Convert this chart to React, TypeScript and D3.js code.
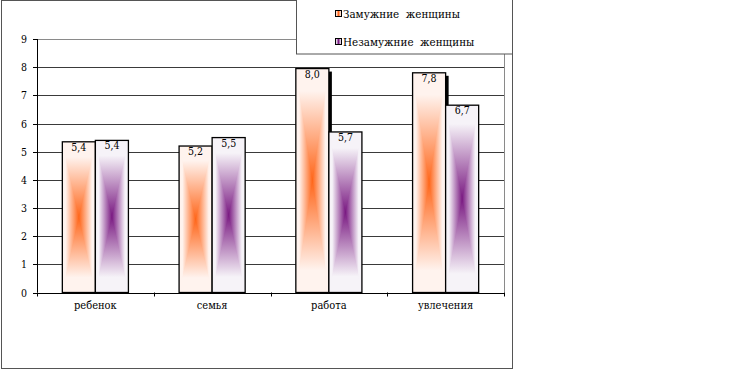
import React from "react";
import * as d3 from "d3";

const categories = ["ребенок", "семья", "работа", "увлечения"];
const seriesNames = ["Замужние  женщины", "Незамужние  женщины"];
const married = [5.35, 5.2, 7.95, 7.8];
const unmarried = [5.4, 5.5, 5.7, 6.65];
const marriedLabels = ["5,4", "5,2", "8,0", "7,8"];
const unmarriedLabels = ["5,4", "5,5", "5,7", "6,7"];
const yTicks = [0, 1, 2, 3, 4, 5, 6, 7, 8, 9];

const W = 730;
const H = 369;
const plotLeft = 37;
const plotRight = 504;
const plotTop = 39;
const plotBottom = 292.5;

const seriesColors = [
  { center: "#ff661a", edge: "#fff3ee" },
  { center: "#7a1a82", edge: "#f6f3f8" },
];

const serif = "DejaVu Serif, serif";
const textStyle: React.CSSProperties = { whiteSpace: "pre", fontStretch: "condensed" };

export default function App() {
  const x = d3.scaleBand<string>().domain(categories).range([plotLeft, plotRight]).padding(0);
  const y = d3.scaleLinear().domain([0, 9]).range([plotBottom, plotTop]);
  const barW = x.bandwidth() * 0.283;
  const values = [married, unmarried];
  const labels = [marriedLabels, unmarriedLabels];

  const gradDefs = seriesColors.map((c, i) => (
    <React.Fragment key={i}>
      <linearGradient id={`gh${i}`} x1="0" y1="0" x2="1" y2="0">
        <stop offset="0" stopColor={c.edge} />
        <stop offset="0.1" stopColor={c.edge} />
        <stop offset="0.5" stopColor={c.center} />
        <stop offset="0.9" stopColor={c.edge} />
        <stop offset="1" stopColor={c.edge} />
      </linearGradient>
      <linearGradient id={`gv${i}`} x1="0" y1="0" x2="0" y2="1">
        <stop offset="0" stopColor={c.edge} />
        <stop offset="0.1" stopColor={c.edge} />
        <stop offset="0.5" stopColor={c.center} />
        <stop offset="0.9" stopColor={c.edge} />
        <stop offset="1" stopColor={c.edge} />
      </linearGradient>
    </React.Fragment>
  ));

  const gradientRect = (x0: number, y0: number, w: number, h: number, s: number, key: string) => {
    const x1 = x0 + w;
    const y1 = y0 + h;
    const cx = x0 + w / 2;
    const cy = y0 + h / 2;
    const tb = `M${x0},${y0}L${x1},${y0}L${cx},${cy}ZM${x0},${y1}L${x1},${y1}L${cx},${cy}Z`;
    return (
      <g key={key}>
        <rect x={x0} y={y0} width={w} height={h} fill={`url(#gh${s})`} />
        <path d={tb} fill={`url(#gv${s})`} />
      </g>
    );
  };

  return (
    <svg
      width={W}
      height={H}
      fontFamily={serif}
      style={{ position: "absolute", left: 0, top: 0, background: "#fff", fontFamily: serif }}
    >
      <defs>{gradDefs}</defs>
      <rect x={0} y={0} width={W} height={H} fill="#fff" />
      <rect x={1.5} y={0.5} width={511} height={368} fill="none" stroke="#555" strokeWidth={1} />

      {yTicks.map((t) => (
        <line
          key={t}
          x1={plotLeft}
          x2={plotRight}
          y1={Math.round(y(t)) + 0.5}
          y2={Math.round(y(t)) + 0.5}
          stroke={t === 9 ? "#8a8a8a" : "#3a3a3a"}
          strokeWidth={1}
        />
      ))}
      <line x1={plotRight + 0.5} x2={plotRight + 0.5} y1={y(9)} y2={plotBottom} stroke="#8a8a8a" />

      {categories.map((c, ci) => {
        const center = (x(c) as number) + x.bandwidth() / 2;
        return (
          <g key={c}>
            {[0, 1].map((s) => {
              const x0 = center - barW + s * barW;
              const v = values[s][ci];
              const top = y(v);
              const h = y(0) - top;
              return (
                <g key={s}>
                  {s === 0 && <rect x={x0 + 3} y={top + 3} width={barW} height={h - 3} fill="#000" />}
                  {gradientRect(x0, top, barW, h, s, `g${s}`)}
                  <rect x={x0} y={top} width={barW} height={h} fill="none" stroke="#000" strokeWidth={1.3} />
                </g>
              );
            })}
            {[0, 1].map((s) => {
              const x0 = center - barW + s * barW;
              const top = y(values[s][ci]);
              return (
                <text key={`l${s}`} x={x0 + barW / 2} y={top + 9} fontSize={10.5} textAnchor="middle" fill="#000" style={textStyle}>
                  {labels[s][ci]}
                </text>
              );
            })}
          </g>
        );
      })}

      <line x1={plotLeft + 0.5} x2={plotLeft + 0.5} y1={y(9)} y2={plotBottom} stroke="#000" />
      <line x1={plotLeft} x2={plotRight} y1={Math.round(plotBottom) + 0.5} y2={Math.round(plotBottom) + 0.5} stroke="#000" />
      {yTicks.map((t) => (
        <g key={`yt${t}`}>
          <line x1={plotLeft - 4} x2={plotLeft} y1={Math.round(y(t)) + 0.5} y2={Math.round(y(t)) + 0.5} stroke="#000" />
          <text x={27} y={y(t) + 4} fontSize={10.5} textAnchor="end" fill="#000" style={textStyle}>
            {t}
          </text>
        </g>
      ))}
      {[...categories.map((c) => x(c) as number), plotRight].map((xv, i) => (
        <line key={`xt${i}`} x1={Math.round(xv) + 0.5} x2={Math.round(xv) + 0.5} y1={plotBottom} y2={plotBottom + 4} stroke="#000" />
      ))}
      {categories.map((c) => (
        <text key={`cl${c}`} x={(x(c) as number) + x.bandwidth() / 2} y={309} fontSize={11} textAnchor="middle" fill="#000" style={textStyle}>
          {c}
        </text>
      ))}

      <rect x={296.5} y={-1} width={216} height={55} fill="#fff" stroke="#555" />
      {seriesNames.map((n, i) => (
        <g key={n}>
          <rect x={335.5} y={10.5 + i * 28} width={6} height={6} fill={`url(#gh${i})`} stroke="#000" />
          <text x={343} y={18 + i * 28} fontSize={11.5} fill="#000" style={textStyle}>
            {n}
          </text>
        </g>
      ))}
    </svg>
  );
}
